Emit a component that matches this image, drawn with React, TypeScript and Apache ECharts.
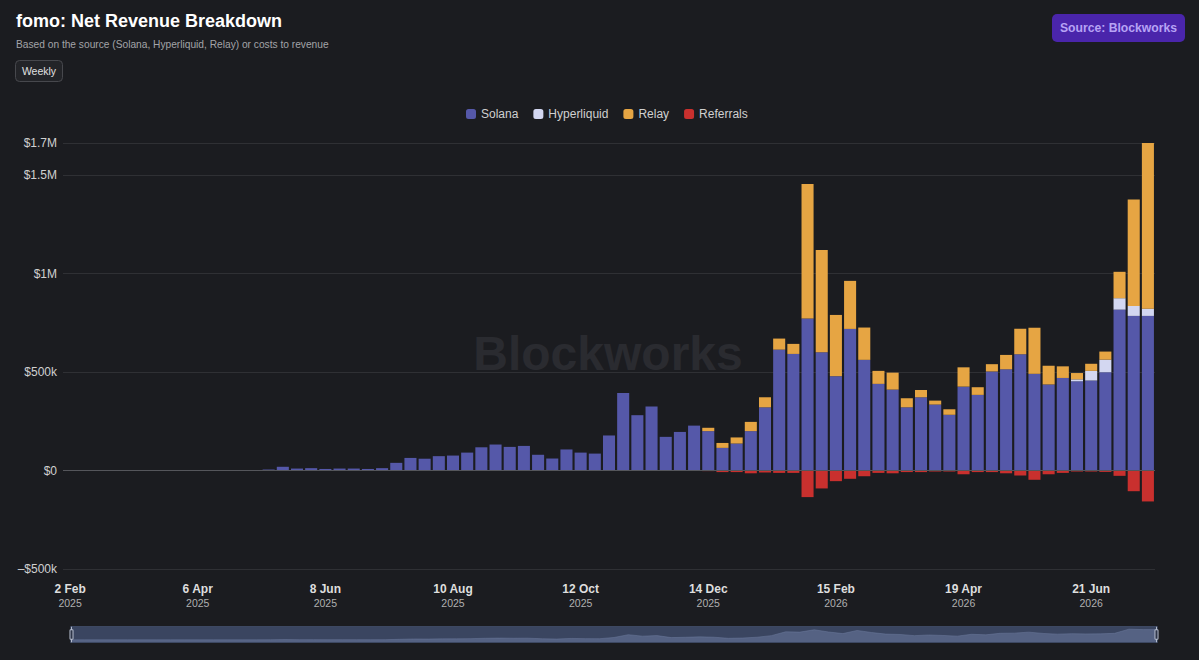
import React, { useEffect, useRef } from "react";
import * as echarts from "echarts";

// First week of the series (weekly buckets, Sundays)
const START_WEEK = "2025-02-02";

// Values in USD thousands (one value per week)
const solana = [
  0, 0, 0, 0, 0, 0, 0, 0, 0, 0, 0, 0, 0, 0, 5, 19, 10, 12, 8, 10,
  10, 8, 12, 39, 64, 60, 73, 76, 91, 118, 132, 120, 125, 80, 61, 107, 91, 86, 178, 394,
  281, 325, 171, 196, 228, 200, 115, 137, 200, 321, 614, 592, 772, 601, 479, 719, 562, 440, 411, 321,
  372, 335, 283, 426, 384, 503, 514, 591, 491, 437, 470, 453, 457, 499, 817, 785, 785,
];
const hyperliquid = [
  0, 0, 0, 0, 0, 0, 0, 0, 0, 0, 0, 0, 0, 0, 0, 0, 0, 0, 0, 0,
  0, 0, 0, 0, 0, 0, 0, 0, 0, 0, 0, 0, 0, 0, 0, 0, 0, 0, 0, 0,
  0, 0, 0, 0, 0, 0, 0, 0, 0, 0, 0, 0, 0, 0, 0, 0, 0, 0, 0, 0,
  0, 0, 0, 0, 0, 0, 0, 0, 0, 0, 0, 10, 49, 64, 58, 51, 37,
];
const relay = [
  0, 0, 0, 0, 0, 0, 0, 0, 0, 0, 0, 0, 0, 0, 0, 0, 0, 0, 0, 0,
  0, 0, 0, 0, 0, 0, 0, 0, 0, 0, 0, 0, 0, 0, 0, 0, 0, 0, 0, 0,
  0, 0, 0, 0, 0, 17, 25, 31, 47, 51, 56, 51, 683, 519, 311, 244, 164, 66, 86, 46,
  37, 20, 28, 98, 39, 37, 73, 129, 234, 95, 59, 32, 36, 41, 134, 540, 841,
];
const referrals = [
  0, 0, 0, 0, 0, 0, 0, 0, 0, 0, 0, 0, 0, 0, 0, 0, 0, 0, 0, 0,
  0, 0, 0, 0, 0, 0, 0, 0, 0, 0, 0, 0, 0, 0, 0, 0, 0, 0, 0, 0,
  0, 0, 0, 0, -2, -3, -8, -8, -14, -10, -12, -12, -135, -91, -54, -42, -29, -12, -14, -8,
  -8, -5, -5, -19, -8, -8, -14, -25, -47, -19, -12, -5, -5, -7, -27, -105, -157,
];

const seriesNames = ["Solana", "Hyperliquid", "Relay", "Referrals"];
const seriesColors = ["#5558a9", "#d3d7f1", "#e6a543", "#c9302e"];
const MONTHS = ["Jan", "Feb", "Mar", "Apr", "May", "Jun", "Jul", "Aug", "Sep", "Oct", "Nov", "Dec"];

function buildWeeks(start: string, n: number): string[] {
  const [y, m, d] = start.split("-").map(Number);
  const base = Date.UTC(y, m - 1, d);
  const out: string[] = [];
  for (let i = 0; i < n; i++) {
    const dt = new Date(base + i * 7 * 86400000);
    out.push(dt.toISOString().slice(0, 10));
  }
  return out;
}

const weeks = buildWeeks(START_WEEK, solana.length);

function fmtMoney(v: number): string {
  if (v === 0) return "$0";
  const a = Math.abs(v);
  const sign = v < 0 ? "\u2013" : "";
  if (a >= 1e6) {
    const s = (a / 1e6).toFixed(1).replace(/\.0$/, "");
    return sign + "$" + s + "M";
  }
  return sign + "$" + Math.round(a / 1000) + "k";
}

export default function App() {
  const ref = useRef<HTMLDivElement>(null);

  useEffect(() => {
    document.body.style.margin = "0";
    document.body.style.background = "#1b1c20";
    const el = ref.current;
    if (!el) return;
    const chart = echarts.init(el, null, { renderer: "svg" });

    const toUsd = (arr: number[]) => arr.map((v) => v * 1000);
    const data = [toUsd(solana), toUsd(hyperliquid), toUsd(relay), toUsd(referrals)];
    const posTotals = weeks.map((_, i) => (solana[i] + hyperliquid[i] + relay[i]) * 1000);
    const yMax = Math.max(...posTotals);

    const font = "'Liberation Sans', Arial, Helvetica, sans-serif";

    const option: any = {
      animation: false,
      backgroundColor: "#1b1c20",
      textStyle: { fontFamily: font },
      graphic: [
        {
          type: "text",
          left: 16,
          top: 12,
          style: { text: "fomo: Net Revenue Breakdown", fill: "#ffffff", font: `bold 18px ${font}` },
        },
        {
          type: "text",
          left: 16,
          top: 39,
          style: {
            text: "Based on the source (Solana, Hyperliquid, Relay) or costs to revenue",
            fill: "#a3a4a8",
            font: `10.2px ${font}`,
          },
        },
        {
          type: "group",
          left: 15,
          top: 60,
          children: [
            {
              type: "rect",
              shape: { x: 0, y: 0, width: 47, height: 21, r: 4 },
              style: { fill: "#232428", stroke: "#47484d", lineWidth: 1 },
            },
            {
              type: "text",
              x: 23.5,
              y: 10,
              style: { text: "Weekly", fill: "#e0e0e0", font: `10.5px ${font}`, align: "center", verticalAlign: "middle" },
            },
          ],
        },
        {
          type: "group",
          left: 1052,
          top: 14,
          children: [
            {
              type: "rect",
              shape: { x: 0, y: 0, width: 133, height: 28, r: 5 },
              style: { fill: "#4a25ab" },
            },
            {
              type: "text",
              x: 66.5,
              y: 14,
              style: {
                text: "Source: Blockworks",
                fill: "#b7a3f5",
                font: `bold 12.2px ${font}`,
                align: "center",
                verticalAlign: "middle",
              },
            },
          ],
        },
        {
          type: "text",
          x: 608,
          y: 353,
          z: -10,
          silent: true,
          style: {
            text: "Blockworks",
            fill: "#2a2b30",
            font: `bold 48px ${font}`,
            align: "center",
            verticalAlign: "middle",
          },
        },
      ],
      legend: {
        top: 103,
        left: 461,
        icon: "roundRect",
        itemWidth: 10,
        itemHeight: 10,
        itemGap: 15,
        textStyle: { color: "#d0d0d0", fontSize: 12, fontFamily: font },
        data: seriesNames,
      },
      grid: { left: 63, right: 44, top: 143, bottom: 91, containLabel: false },
      xAxis: {
        type: "category",
        data: weeks,
        axisLine: { show: false, onZero: false },
        axisTick: { show: false },
        axisLabel: {
          interval: 8,
          margin: 12,
          formatter: (v: string) => {
            const [y, m, d] = v.split("-").map(Number);
            return `{a|${d} ${MONTHS[m - 1]}}\n{b|${y}}`;
          },
          rich: {
            a: { fontSize: 12, fontWeight: "bold", color: "#dedede", lineHeight: 15, fontFamily: font },
            b: { fontSize: 10.5, color: "#b0b0b0", lineHeight: 14, fontFamily: font },
          },
        },
        splitLine: { show: false },
      },
      yAxis: {
        type: "value",
        min: -500000,
        max: yMax,
        interval: 500000,
        axisLine: { show: false },
        axisTick: { show: false },
        axisLabel: {
          color: "#d0d0d0",
          fontSize: 12,
          margin: 6,
          fontFamily: font,
          formatter: (v: number) => fmtMoney(v),
        },
        splitLine: { lineStyle: { color: "#2f3034", width: 1 } },
      },
      dataZoom: [
        {
          type: "slider",
          xAxisIndex: 0,
          start: 0,
          end: 100,
          left: 68,
          right: 44,
          bottom: 17,
          height: 17,
          showDetail: false,
          brushSelect: false,
          backgroundColor: "#2e3649",
          borderColor: "#3d4862",
          fillerColor: "rgba(80,96,140,0.35)",
          dataBackground: {
            lineStyle: { color: "#7c88a6", width: 0.5 },
            areaStyle: { color: "#5d6884", opacity: 0.9 },
          },
          selectedDataBackground: {
            lineStyle: { color: "#7c88a6", width: 0.5 },
            areaStyle: { color: "#5d6884", opacity: 0.9 },
          },
          moveHandleSize: 6,
          moveHandleStyle: { color: "#56658a", opacity: 1 },
          handleSize: "90%",
          handleStyle: { color: "#2e3649", borderColor: "#b5bccd", borderWidth: 1 },
          textStyle: { color: "transparent" },
        },
      ],
      series: seriesNames.map((name, i) => ({
        name,
        type: "bar",
        stack: "total",
        barCategoryGap: "15%",
        itemStyle: { color: seriesColors[i] },
        emphasis: { disabled: true },
        data: data[i],
        ...(i === 0
          ? {
              markLine: {
                silent: true,
                symbol: "none",
                label: { show: false },
                lineStyle: { color: "#55565b", width: 1, type: "solid" },
                data: [{ yAxis: 0 }],
              },
            }
          : {}),
      })),
    };

    chart.setOption(option);
    return () => chart.dispose();
  }, []);

  return (
    <div
      ref={ref}
      style={{ position: "absolute", left: 0, top: 0, width: 1199, height: 660, background: "#1b1c20" }}
    />
  );
}
